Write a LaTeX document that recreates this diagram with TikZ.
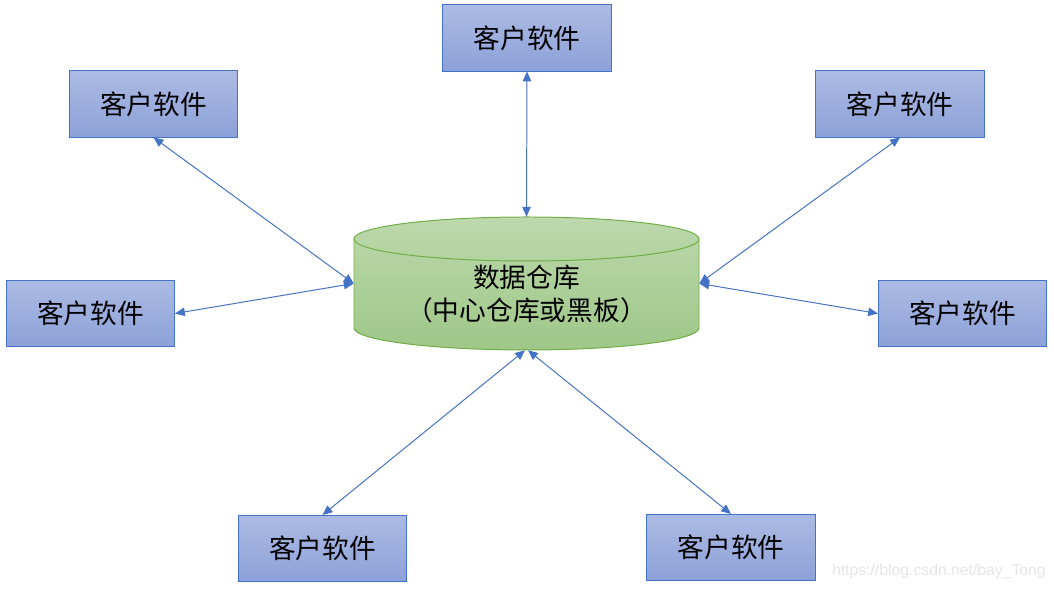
\documentclass[tikz,border=0pt]{standalone}
\usepackage{fontspec}
\usepackage{tikz}
\usetikzlibrary{arrows.meta, positioning, calc, shapes}
\newfontfamily\cjk{Noto Sans CJK SC}
\newfontfamily\wmfont{Liberation Sans}
\definecolor{boxtop}{RGB}{172,187,228}
\definecolor{boxbot}{RGB}{140,161,216}
\definecolor{boxline}{RGB}{68,114,196}
\definecolor{dbtop}{RGB}{188,217,173}
\definecolor{dbbot}{RGB}{158,199,136}
\definecolor{dbline}{RGB}{112,173,71}
\tikzstyle{arrow} = [line width=0.7pt, draw=boxline, {Triangle[length=7pt,width=6pt]}-{Triangle[length=7pt,width=6pt]}]
\tikzstyle{client} = [rectangle, minimum width=4.2cm, minimum height=1.65cm, text centered, draw=boxline, line width=0.7pt, top color=boxtop, bottom color=boxbot, font=\cjk\fontsize{19}{23}\selectfont]

\begin{document}
\begin{tikzpicture}[x=0.025cm, y=0.025cm]
    \useasboundingbox (0,0) rectangle (1054,589);

    % Datenspeicher (Zylinder)
    \node (store) [rectangle, minimum width=8.625cm, minimum height=3.325cm, inner sep=0pt] at (526.5,305.5) {};
    \path[draw=dbline, line width=0.7pt, top color=dbtop, bottom color=dbbot]
        (354,350) -- (354,261) arc (180:360:172.5 and 22) -- (699,350) arc (0:180:172.5 and 22) -- cycle;
    \draw[dbline, line width=0.7pt] (354,350) arc (180:360:172.5 and 22);
    \node (storetext) [align=center, font=\cjk\fontsize{19}{23.5}\selectfont] at (526.5,294.5) {数据仓库\\（中心仓库或黑板）};

    % Clients
    \node (top) [client] at (527,551) {客户软件};
    \node (ul) [client] at (153.5,485) {客户软件};
    \node (ur) [client] at (900,485) {客户软件};
    \node (ml) [client] at (90.5,275.5) {客户软件};
    \node (mr) [client] at (962.5,275.5) {客户软件};
    \node (bl) [client] at (322.5,40.5) {客户软件};
    \node (br) [client] at (731,41.5) {客户软件};

    % Verbindungen
    \draw [arrow] (top.south) -- (store.north);
    \draw [arrow] (ul.south) -- (store.west);
    \draw [arrow] (ml.east) -- (store.west);
    \draw [arrow] (ur.south) -- (store.east);
    \draw [arrow] (mr.west) -- (store.east);
    \draw [arrow] (bl.north) -- ([xshift=-1.5*0.025cm]store.south);
    \draw [arrow] (br.north) -- ([xshift=1.5*0.025cm]store.south);

    % Wasserzeichen
    \node (mark) [anchor=east, text=black!10, font=\wmfont\fontsize{11.2}{13}\selectfont, inner sep=0pt] at (1046,18) {https://blog.csdn.net/bay\_Tong};
\end{tikzpicture}
\end{document}
